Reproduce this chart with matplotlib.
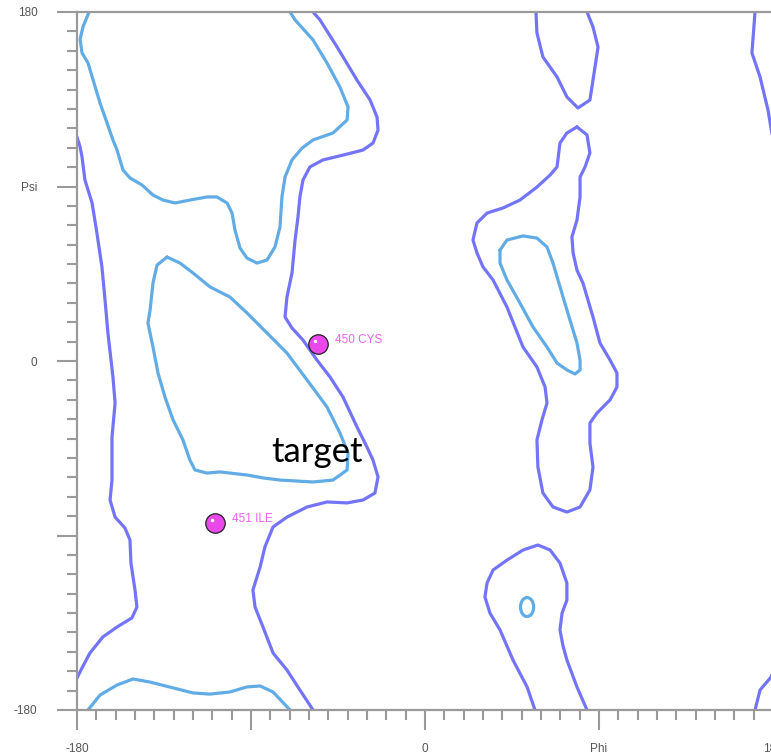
import numpy as np
import matplotlib.pyplot as plt
from matplotlib import transforms
from matplotlib.patches import Ellipse
from matplotlib.ticker import MultipleLocator, FixedLocator, FixedFormatter

# contour traces, (phi, psi) in degrees
outer_left_phi = [-180, -178.4, -177.4, -175.9, -172.2, -169.7, -167.1, -165.5, -164.0, -161.4,
                  -160.3, -161.9, -161.9, -162.9, -160.3, -155.2, -152.6, -152.1, -150.0, -149.0,
                  -151.6, -159.3, -166.6, -173.3, -177.4, -180]
outer_left_psi = [115.5, 110.4, 105.2, 93.4, 81.5, 66.0, 48.5, 31.5, 14.4, -8.3,
                  -21.7, -39.2, -61.4, -71.7, -80.5, -86.1, -92.3, -104.2, -118.1, -126.9,
                  -132.5, -137.2, -142.3, -150.6, -158.3, -163.5]
outer_right_top_phi = [170.7, 169.1, 173.3, 177.4, 180]
outer_right_top_psi = [180, 158.9, 146.5, 129.5, 114.0]
outer_right_bot_phi = [170.7, 173.3, 179.0, 180]
outer_right_bot_psi = [-180, -169.7, -163.0, -160.4]

outer_mid_phi = [-57.9, -54.3, -45.5, -35.2, -28.4, -24.8, -24.3, -26.9, -32.1, -42.4,
                 -52.8, -59.5, -63.1, -64.7, -65.7, -67.2, -68.8, -71.4, -72.4, -68.8,
                 -63.1, -55.9, -49.1, -42.4, -35.2, -30.0, -26.9, -24.3, -25.9, -32.1,
                 -40.3, -50.7, -61.0, -71.4, -78.6, -82.8, -85.3, -89.0, -87.9, -83.8,
                 -78.6, -71.4, -64.7, -57.9]
outer_mid_psi = [180, 175.9, 162.0, 144.9, 134.6, 125.8, 119.1, 112.4, 108.8, 106.2,
                 103.7, 100.1, 93.4, 84.6, 74.3, 62.4, 45.4, 33.0, 22.7, 17.0,
                 10.8, 0.5, -8.3, -18.6, -34.0, -44.4, -51.1, -59.8, -68.1, -71.7,
                 -73.2, -72.7, -75.3, -80.5, -85.6, -95.9, -106.3, -118.1, -126.9, -137.2,
                 -150.6, -159.4, -169.7, -180]

inner_top_phi = [-173.8, -176.9, -178.4, -177.4, -174.3, -168.1, -161.4, -159.3, -156.2, -152.6,
                 -146.4, -140.7, -135.5, -129.3, -121.6, -112.8, -107.6, -102.4, -99.8, -98.3,
                 -95.7, -92.1, -86.9, -81.7, -77.6, -75.0, -74.0, -72.4, -68.8, -63.6,
                 -57.9, -47.6, -40.3, -39.8, -44.0, -50.7, -57.9, -67.2, -69.8]
inner_top_psi = [180, 172.3, 166.0, 158.9, 153.7, 133.1, 114.0, 108.8, 98.5, 94.4,
                 90.8, 85.6, 83.0, 81.5, 83.0, 84.6, 84.6, 81.5, 76.3, 67.6,
                 58.3, 53.1, 50.5, 52.1, 58.8, 69.1, 84.6, 94.9, 103.7, 109.8,
                 114.0, 117.6, 124.3, 131.0, 141.3, 153.7, 165.6, 175.9, 180]
inner_bot_phi = [-174.3, -168.1, -159.3, -151.0, -142.2, -130.3, -120.0, -111.2, -100.9, -92.1,
                 -85.3, -78.6, -69.8]
inner_bot_psi = [-180, -172.3, -167.1, -164.0, -165.6, -168.6, -171.2, -171.8, -170.7, -168.1,
                 -167.6, -170.7, -180]

inner_alpha_phi = [-133.4, -126.7, -120.0, -111.2, -100.9, -92.1, -81.7, -71.4, -61.0, -50.7,
                   -44.0, -39.8, -40.3, -47.6, -57.9, -75.0, -83.8, -92.1, -100.9, -106.0,
                   -112.8, -119.0, -121.6, -125.2, -130.3, -134.5, -138.1, -140.7, -143.3, -142.2,
                   -140.7, -138.6, -133.4]
inner_alpha_psi = [53.6, 50.5, 45.4, 38.2, 33.0, 24.8, 14.4, 4.1, -9.8, -23.7,
                   -37.1, -47.5, -56.2, -61.4, -62.4, -61.4, -60.3, -58.8, -57.8, -57.2,
                   -57.8, -56.2, -51.1, -40.7, -30.4, -18.6, -6.2, 7.2, 19.6, 26.3,
                   40.2, 49.5, 53.6]

outer_lh_phi = [78.6, 83.8, 85.3, 82.8, 80.2, 80.2, 78.6, 76.0, 76.6, 78.6,
                81.7, 86.9, 90.5, 95.7, 99.3, 99.3, 95.7, 89.0, 85.3, 85.3,
                86.9, 85.3, 80.2, 73.4, 66.2, 61.0, 58.4, 57.9, 60.5, 63.1,
                62.1, 57.9, 50.7, 42.4, 35.2, 30.0, 26.9, 24.8, 26.9, 32.1,
                40.3, 49.1, 57.9, 64.7, 68.3, 69.8, 73.4, 78.6]
outer_lh_psi = [120.7, 116.6, 107.3, 100.1, 94.9, 84.6, 72.7, 64.0, 55.7, 46.9,
                40.2, 22.7, 9.3, 0.5, -6.2, -13.4, -20.1, -26.8, -32.0, -42.3,
                -54.7, -66.5, -75.3, -77.9, -75.3, -68.1, -54.7, -40.7, -30.4, -21.7,
                -13.4, -3.1, 7.2, 27.8, 41.8, 48.5, 55.7, 62.4, 71.2, 76.3,
                78.9, 83.0, 89.7, 95.9, 100.1, 112.4, 117.6, 120.7]

inner_lh_phi = [38.8, 42.4, 50.7, 57.9, 63.1, 66.2, 71.4, 75.0, 78.6, 80.2,
                80.2, 77.6, 73.4, 68.3, 63.1, 55.9, 49.1, 42.4, 38.8, 38.8]
inner_lh_psi = [57.2, 62.4, 64.5, 63.4, 58.8, 50.5, 33.0, 21.1, 9.3, 0.5,
                -4.6, -6.7, -4.6, -1.1, 7.2, 17.5, 29.9, 41.8, 50.5, 57.2]

outer_top_phi = [57.4, 57.9, 61.0, 68.3, 73.4, 79.1, 85.3, 86.9, 89.5, 86.9, 83.8]
outer_top_psi = [180, 169.2, 156.8, 146.5, 136.2, 130.5, 134.6, 144.9, 161.9, 172.3, 180]
outer_bot_phi = [56.9, 52.8, 45.5, 38.8, 33.6, 31.0, 32.1, 35.2, 42.4, 50.7,
                 58.4, 64.7, 69.8, 73.4, 73.4, 70.9, 69.8, 71.4, 73.4, 78.6, 83.8]
outer_bot_psi = [-180, -168.1, -154.2, -138.7, -130.0, -121.7, -114.5, -107.8, -102.7, -97.5,
                 -94.9, -97.5, -104.2, -114.5, -123.3, -130.0, -138.7, -147.0, -154.2, -168.1, -180]

small_ring_center = (52.8, -126.9)
small_ring_size = (6.8, 9.8)

res_names = ['450 CYS', '451 ILE']
res_phi = [-55.3, -108.6]
res_psi = [8.8, -83.6]

outer_lines = [(outer_left_phi, outer_left_psi), (outer_right_top_phi, outer_right_top_psi),
               (outer_right_bot_phi, outer_right_bot_psi), (outer_mid_phi, outer_mid_psi),
               (outer_lh_phi, outer_lh_psi), (outer_top_phi, outer_top_psi),
               (outer_bot_phi, outer_bot_psi)]
inner_lines = [(inner_top_phi, inner_top_psi), (inner_bot_phi, inner_bot_psi),
               (inner_alpha_phi, inner_alpha_psi), (inner_lh_phi, inner_lh_psi)]

OUTER = '#7474f8'
INNER = '#62ace6'
AXC = '#9a9a9a'

fig = plt.figure(figsize=(7.71, 7.55), dpi=100)
ax = fig.add_axes([77/771, 45/755, 696/771, 698/755])
ax.set_xlim(-180, 180)
ax.set_ylim(-180, 180)

for xs, ys in outer_lines:
    ax.plot(xs, ys, color=OUTER, lw=2.3, solid_joinstyle='round', solid_capstyle='round')
for xs, ys in inner_lines:
    ax.plot(xs, ys, color=INNER, lw=2.3, solid_joinstyle='round', solid_capstyle='round')
ax.add_patch(Ellipse(small_ring_center, *small_ring_size, fill=False, ec=INNER, lw=2.3))

ax.plot(res_phi, res_psi, 'o', ms=14, mfc='#ea48ea', mec='#222222', mew=0.9, zorder=5)
hl = transforms.offset_copy(ax.transData, fig=fig, x=-3, y=3, units='dots')
ax.plot(res_phi, res_psi, 'o', ms=2.5, mfc='white', mec='none', transform=hl, zorder=6)
lab = transforms.offset_copy(ax.transData, fig=fig, x=17, y=4, units='dots')
for n, p, s in zip(res_names, res_phi, res_psi):
    ax.text(p, s, n, transform=lab, color='#f060f0', fontsize=8.5,
            family='Liberation Sans', ha='left', va='center')

ax.text(-79.6, -52.1, 'target', fontsize=25, family='Lato', color='black',
        ha='left', va='baseline')

ax.xaxis.set_major_locator(FixedLocator([-180, -90, 0, 90, 180]))
ax.xaxis.set_major_formatter(FixedFormatter(['-180', '', '0', 'Phi', '180']))
ax.yaxis.set_major_locator(FixedLocator([-180, -90, 0, 90, 180]))
ax.yaxis.set_major_formatter(FixedFormatter(['-180', '', '0', 'Psi', '180']))
ax.xaxis.set_minor_locator(MultipleLocator(10))
ax.yaxis.set_minor_locator(MultipleLocator(10))
ax.tick_params(which='major', direction='out', length=14.4, width=1.5, color=AXC,
               labelsize=8.5, labelcolor='#555555', pad=9)
ax.tick_params(which='minor', direction='out', length=7, width=1.5, color=AXC)
ax.tick_params(axis='y', which='major', pad=14)
for lbl in ax.get_xticklabels() + ax.get_yticklabels():
    lbl.set_family('Liberation Sans')
for sp in ax.spines.values():
    sp.set_color(AXC)
    sp.set_linewidth(1.6)

fig.savefig('out.png', dpi=100)
